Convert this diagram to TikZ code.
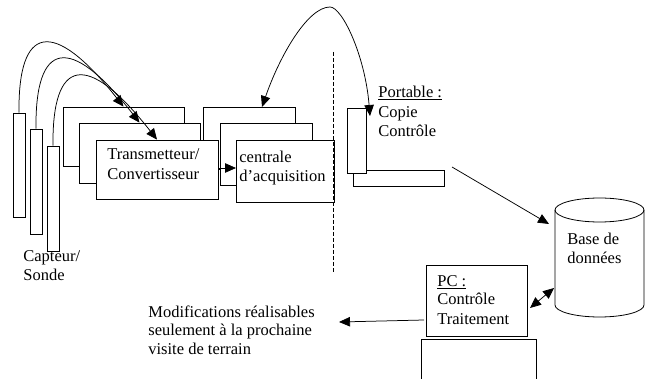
\documentclass[tikz,border=0pt]{standalone}
\usepackage{fontspec}
\setmainfont{Liberation Serif}
\usetikzlibrary{arrows.meta}
\begin{document}
\begin{tikzpicture}[x=1pt,y=-1pt,
  box/.style={draw, fill=white, line width=0.8pt, inner sep=0pt},
  txt/.style={inner sep=0pt, anchor=base west, font=\fontsize{16.5}{19}\selectfont},
  arr/.style={line width=0.75pt, -{Triangle[length=11pt,width=9.5pt]}},
  darr/.style={line width=0.75pt, {Triangle[length=11pt,width=9.5pt]}-{Triangle[length=11pt,width=9.5pt]}},
  line width=0.75pt]
\useasboundingbox (0,0) rectangle (645,379);
\clip (0,0) rectangle (645,379);

% sensors
\node[box, minimum width=12pt, minimum height=104pt] (s1) at (19,165) {};
\node[box, minimum width=12pt, minimum height=105pt] (s2) at (36,181.5) {};
\node[box, minimum width=12pt, minimum height=105pt] (s3) at (53,198.5) {};

% centrales
\node[box, minimum width=92pt, minimum height=62pt] (c1) at (249,138) {};
\node[box, minimum width=92pt, minimum height=62pt] (c2) at (266,154) {};
\node[box, minimum width=98pt, minimum height=62pt] (c3) at (285,171) {};

% transmetteurs
\node[box, minimum width=121pt, minimum height=59pt] (b1) at (123.5,136.5) {};
\node[box, minimum width=121pt, minimum height=60pt] (b2) at (139.5,153) {};
\node[box, minimum width=122pt, minimum height=59pt] (b3) at (157,169.5) {};

\node[txt] (tr1) at (107,160) {Transmetteur/};
\node[txt] (tr2) at (107,180) {Convertisseur};
\node[txt] (ce1) at (239,163) {centrale};
\node[txt] (ce2) at (239,181.5) {d’acquisition};

\node[txt] (cap1) at (23,262) {Capteur/};
\node[txt] (cap2) at (23,281) {Sonde};

% dashed separator
\draw[dash pattern=on 4pt off 2pt] (333,52) -- (333,272);

% portable
\node[box, minimum width=91pt, minimum height=16pt] (ph) at (398.5,178) {};
\node[box, minimum width=19pt, minimum height=65pt] (pv) at (356.5,140.5) {};
\node[txt] (po1) at (378,98) {\underline{Portable :}};
\node[txt] (po2) at (378,118) {Copie};
\node[txt] (po3) at (378,137) {Contrôle};

% database
\node[inner sep=0pt, minimum width=89pt, minimum height=119pt] (db) at (599.5,257.5) {};
\draw[line width=0.8pt] (599.5,210) ellipse [x radius=44.5pt, y radius=12pt];
\draw[line width=0.8pt] (555,210) -- (555,305) arc[start angle=180, end angle=360, x radius=44.5pt, y radius=12pt] -- (644,210);
\node[txt] (db1) at (567,245) {Base de};
\node[txt] (db2) at (567,263.5) {données};

% PC
\node[box, minimum width=101pt, minimum height=71pt] (pc) at (476.5,300.5) {};
\node[box, minimum width=115pt, minimum height=60pt] (pcb) at (478.5,369) {};
\node[txt] (pc1) at (437,287) {\underline{PC :}};
\node[txt] (pc2) at (437,305) {Contrôle};
\node[txt] (pc3) at (437,324) {Traitement};

% text
\node[txt] (m1) at (148,317) {Modifications réalisables};
\node[txt] (m2) at (148,335.5) {seulement à la prochaine};
\node[txt] (m3) at (148,354.5) {visite de terrain};

% connectors
\draw[arr] (s1.north) .. controls (18,26) and (52,16) .. (b1.north);
\draw[arr] (s2.north) .. controls (35,42) and (69,32) .. (b2.north);
\draw[arr] (s3.north) .. controls (52,59) and (86,49) .. (b3.north);

\coordinate (b3r) at (218,168);
\coordinate (c3l) at (236,168);
\draw[arr] (b3r) -- (c3l);

\coordinate (c1t) at (262,107);
\coordinate (peak) at (330,7);
\coordinate (pt) at (370,116);
\draw[darr] (c1t) .. controls (280,55) and (308,7) .. (peak) .. controls (342,7) and (365,55) .. (pt);

\coordinate (pf) at (452,167);
\coordinate (dbin) at (549,224);
\draw[arr] (pf) -- (dbin);

\coordinate (pcr) at (530,308);
\coordinate (dbl) at (554,288);
\draw[darr] (pcr) -- (dbl);

\coordinate (pcl) at (424,320);
\coordinate (mr) at (339,322);
\draw[arr] (pcl) -- (mr);
\end{tikzpicture}
\end{document}
